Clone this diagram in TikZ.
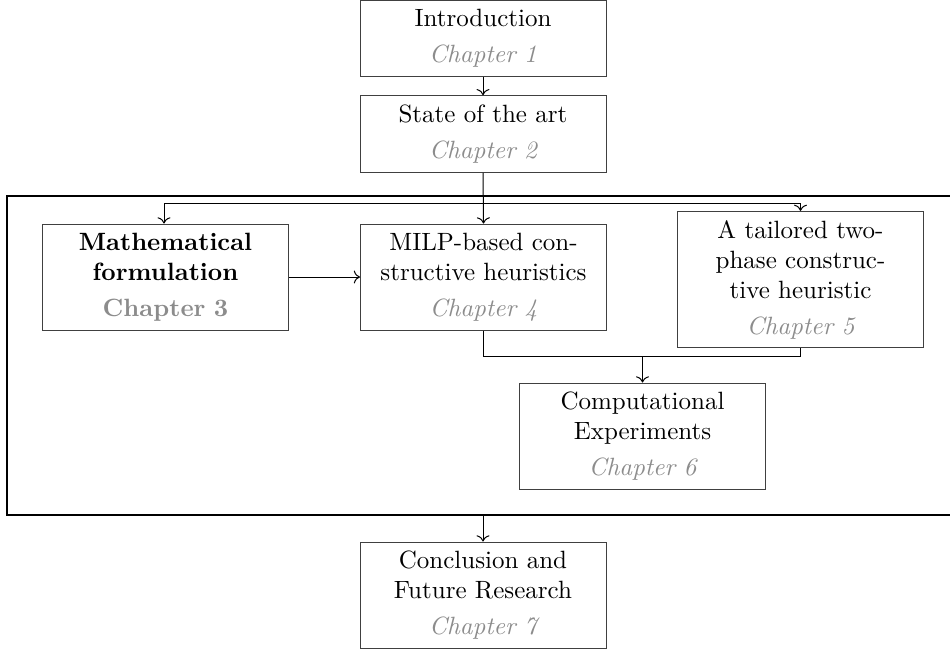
\documentclass[tikz,border=0pt]{standalone}
\usetikzlibrary{arrows.meta}
\begin{document}
\begin{tikzpicture}[x=0.4pt,y=-0.4pt,
  chap/.style={draw=black!75, line width=0.4pt, rectangle, align=center,
    inner sep=3.5pt, minimum width=98.4pt, text width=91pt},
  two/.style={chap, minimum height=30.6pt},
  three/.style={chap, minimum height=42.4pt},
  four/.style={chap, minimum height=54pt},
  conn/.style={draw=black, line width=0.4pt},
  arr/.style={conn, ->},
  frameline/.style={draw=black, line width=0.45pt}]
\clip (0,0) rectangle (950,649);

% outer frame around the core chapters
\node[frameline, rectangle, minimum width=381.6pt, minimum height=127.6pt, inner sep=0pt] (frame) at (484,355.5) {};

\newcommand{\chapnum}[1]{\\[2.4pt]\textcolor{black!45}{\itshape Chapter #1}}

\node[two] (intro) at (483,38.5) {Introduction\chapnum{1}};
\node[two] (soa) at (483,134) {State of the art\chapnum{2}};
\node[three] (math) at (165.5,277) {\bfseries Mathematical\\formulation\\[2.4pt]\textcolor{black!45}{Chapter 3}};
\node[three] (milp) at (483.5,277) {MILP-based con-\\structive heuristics\chapnum{4}};
\node[four] (tail) at (800.5,279.5) {A tailored two-\\phase construc-\\tive heuristic\chapnum{5}};
\node[three] (comp) at (642.5,436) {Computational\\Experiments\chapnum{6}};
\node[three] (concl) at (483,595) {Conclusion and\\Future Research\chapnum{7}};

% connectors
\draw[arr] (intro.south) -- (soa.north);
\draw[arr] (soa.south) -- (milp.north);
\coordinate (split) at (483,203);
\draw[arr] (split) -| ([xshift=-0.6pt]math.north);
\draw[arr] (split) -| (tail.north);
\draw[arr] (math.east) -- (milp.west);
\coordinate (join) at (comp.north |- 0,356);
\draw[conn] (milp.south) |- (join) -| (tail.south);
\draw[arr] (join) -- (comp.north);
\coordinate (exit) at (concl.north |- frame.south);
\draw[arr] (exit) -- (concl.north);
\end{tikzpicture}
\end{document}
